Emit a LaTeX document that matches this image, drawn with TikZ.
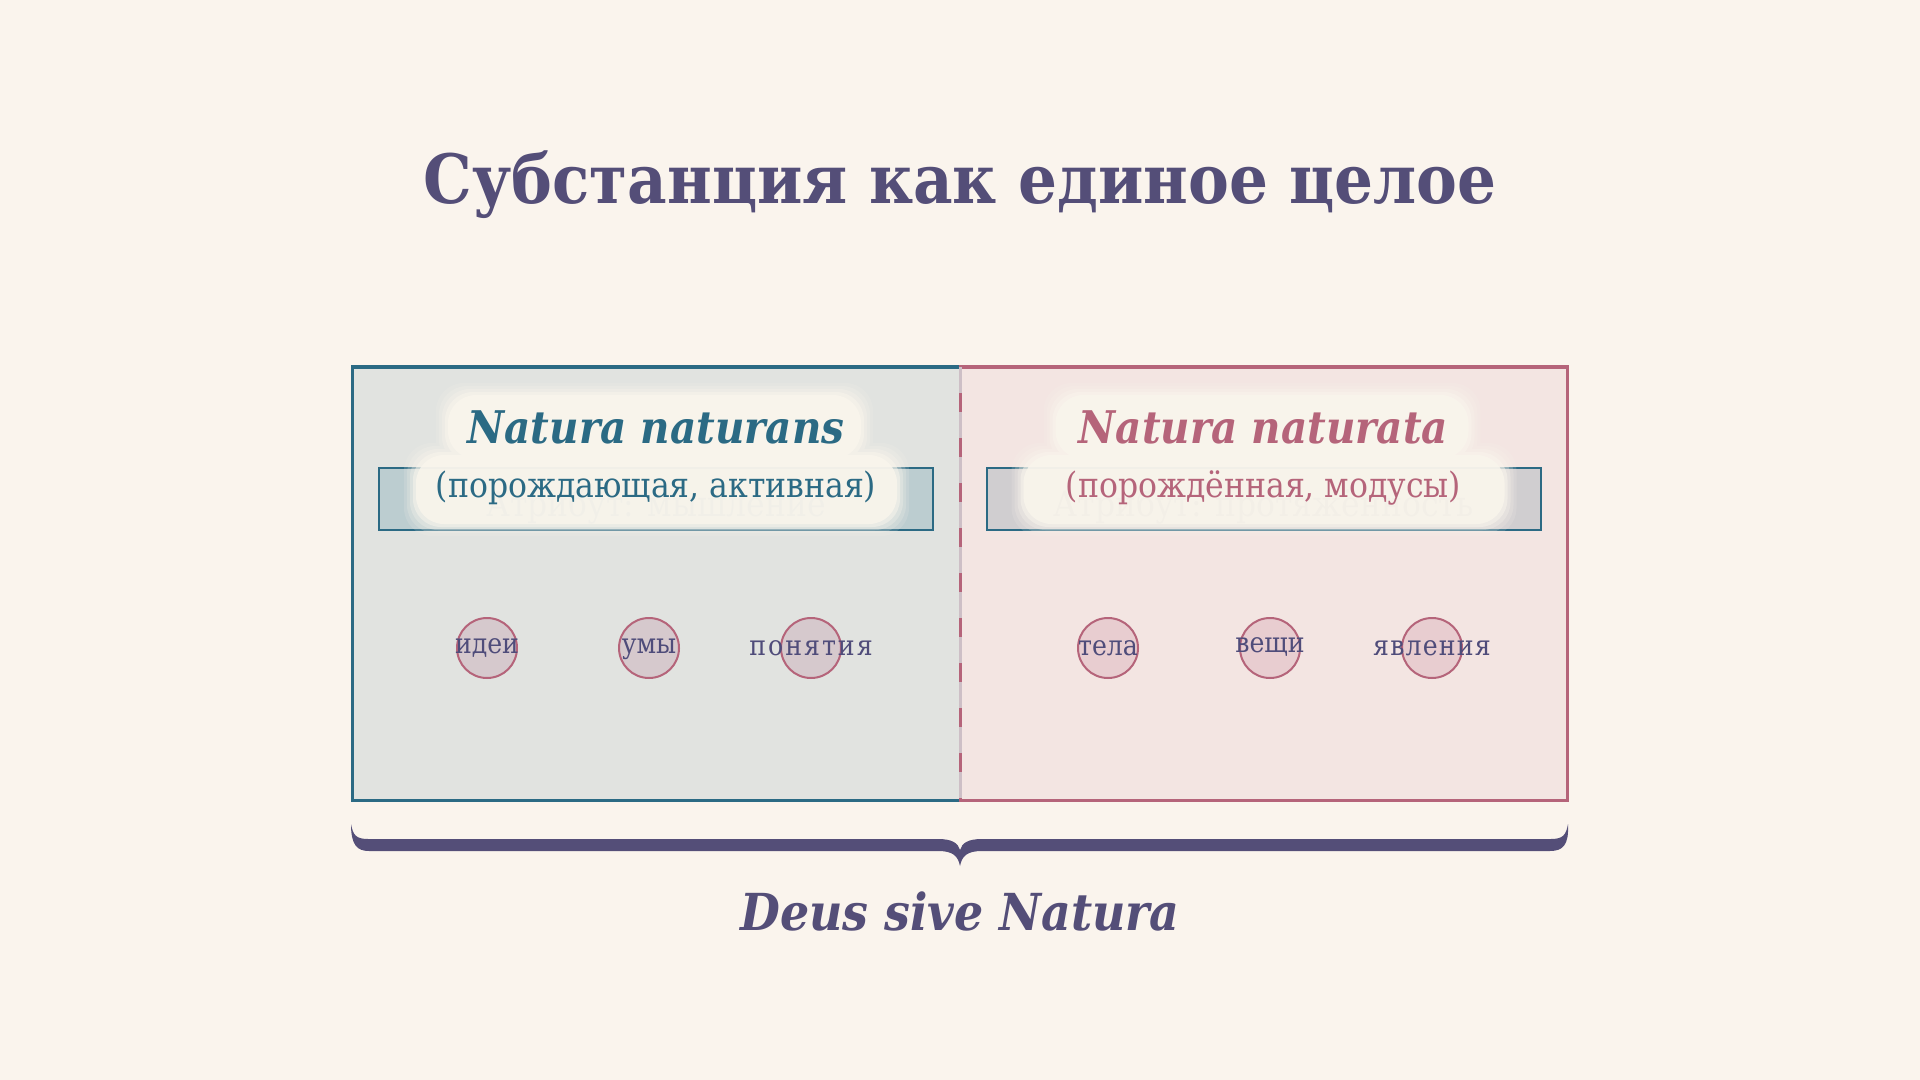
\documentclass[tikz,border=0pt]{standalone}
\usepackage{fontspec}
\setmainfont{DejaVu Serif Condensed}
\definecolor{bgc}{HTML}{FAF4ED}
\definecolor{titlec}{HTML}{544E78}
\definecolor{tealc}{HTML}{2B6A84}
\definecolor{rosec}{HTML}{B5647A}
\definecolor{lfill}{HTML}{E1E3E0}
\definecolor{rfill}{HTML}{F3E5E2}
\definecolor{lsub}{HTML}{BCCDD0}
\definecolor{rsub}{HTML}{D0CED0}
\definecolor{cloudc}{HTML}{F9F5EC}
\definecolor{lcirc}{HTML}{D6C9CD}
\definecolor{rcirc}{HTML}{E8CDD0}
\definecolor{labc}{HTML}{4F4C7A}
\definecolor{divc}{HTML}{CDBFC6}
\definecolor{hidc}{HTML}{5C5A70}
\tikzset{
  bigbox/.style={rectangle, inner sep=0pt, outer sep=0pt, line width=1.5pt, minimum width=304pt, minimum height=216.5pt},
  subbox/.style={rectangle, inner sep=0pt, outer sep=0pt, line width=1pt, draw=tealc, minimum width=277pt, minimum height=31pt},
  headtxt/.style={anchor=base, font=\bfseries\itshape\fontsize{22.5}{26}\selectfont},
  subtxt/.style={anchor=base, font=\fontsize{17.5}{20}\selectfont},
  hidtxt/.style={anchor=base, font=\fontsize{17.5}{20}\selectfont},
  dot/.style={circle, draw=rosec, line width=1pt, minimum size=30pt, inner sep=0pt},
  dotlab/.style={anchor=base, text=labc, font=\fontsize{14}{16}\selectfont},
}
\newcommand{\glowcloud}[1]{%
  \foreach \e/\o in {10/0.15,7/0.2,4/0.3,1/0.5,-2/0.85}{%
    \fill[cloudc, opacity=\o, rounded corners=14pt, shift={(#1,0)}]
      (446-\e,393-\e) rectangle (863+\e,461+\e)
      (414-\e,453-\e) rectangle (899+\e,526+\e);
  }%
}
\begin{document}
\begin{tikzpicture}[x=0.5pt,y=-0.5pt]
\fill[bgc] (0,0) rectangle (1920,1080);
\useasboundingbox (0,0) rectangle (1920,1080);

\node[anchor=base, text=titlec, font=\bfseries\fontsize{34}{38}\selectfont] (title) at (960,204) {Субстанция как единое целое};

% boxes
\node[bigbox, draw=tealc, fill=lfill] (lbox) at (656,583.5) {};
\node[bigbox, draw=rosec, fill=rfill, minimum width=303.5pt] (rbox) at (1263.5,583.5) {};
\draw[divc, line width=1.5pt] (lbox.north east) -- (lbox.south east);
\draw[rosec, line width=1.5pt, dash pattern=on 9.5pt off 13pt, dash phase=9.5pt] (lbox.north east) -- (lbox.south east);

% sub rectangles with hidden attribute text
\node[subbox, fill=lsub] (lsub) at (656,499) {};
\node[subbox, fill=rsub] (rsub) at (1263.5,499) {};
\node[hidtxt, text=tealc] (lhid) at (656,516) {Атрибут: мышление};
\node[hidtxt, text=hidc] (rhid) at (1263.5,516) {Атрибут: протяжённость};

% glow clouds
\glowcloud{0}
\glowcloud{607.5}

\node[headtxt, text=tealc] (lhead) at (656,443) {Natura naturans};
\node[subtxt, text=tealc] (lsubt) at (656,497) {(порождающая, активная)};
\node[headtxt, text=rosec] (rhead) at (1263.5,443) {Natura naturata};
\node[subtxt, text=rosec] (rsubt) at (1263.5,497) {(порождённая, модусы)};

% circles
\node[dot, fill=lcirc] (c1) at (487,648) {};
\node[dot, fill=lcirc] (c2) at (649,648) {};
\node[dot, fill=lcirc] (c3) at (811,648) {};
\node[dot, fill=rcirc] (c4) at (1108,648) {};
\node[dot, fill=rcirc] (c5) at (1270,648) {};
\node[dot, fill=rcirc] (c6) at (1432,648) {};
\node[dotlab] (t1) at (487,653) {идеи};
\node[dotlab] (t2) at (649,653) {умы};
\node[dotlab] (t3) at (811,655) {п\kern1pt о\kern1pt н\kern1pt я\kern1pt т\kern1pt и\kern1pt я};
\node[dotlab] (t4) at (1108,655) {тела};
\node[dotlab] (t5) at (1270,652) {вещи};
\node[dotlab] (t6) at (1432,655) {я\kern0.6pt в\kern0.6pt л\kern0.6pt е\kern0.6pt н\kern0.6pt и\kern0.6pt я};

% brace
\fill[titlec]
  (351,824) .. controls (353,835) and (356,839) .. (368,839)
  -- (938,839) .. controls (952,839) and (958,843) .. (960,850)
  .. controls (962,843) and (968,839) .. (982,839)
  -- (1551,839) .. controls (1563,839) and (1566,835) .. (1568,824)
  .. controls (1569,845) and (1563,851) .. (1550,851)
  -- (982,851) .. controls (967,851) and (962,856) .. (960,866)
  .. controls (958,856) and (953,851) .. (938,851)
  -- (369,851) .. controls (357,851) and (351,845) .. (351,824) -- cycle;

\node[anchor=base, text=titlec, font=\bfseries\itshape\fontsize{25.5}{29}\selectfont] (motto) at (960,930) {Deus sive Natura};
\end{tikzpicture}
\end{document}
